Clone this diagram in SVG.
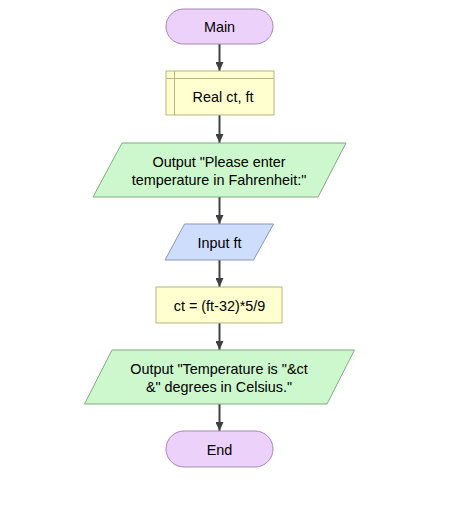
<svg xmlns="http://www.w3.org/2000/svg" width="468" height="520" viewBox="0 0 468 520">
<style>
text{font-family:"Liberation Sans",Arial,sans-serif;font-size:14.4px;fill:#000;text-anchor:middle}
.term{fill:#ecd2fb;stroke:#a686b6;stroke-width:1}
.proc{fill:#ffffd0;stroke:#b6b67e;stroke-width:1}
.out{fill:#cdf7cd;stroke:#7fad7f;stroke-width:1}
.inp{fill:#cfddfd;stroke:#8796bb;stroke-width:1}
.edge{stroke:#404040;stroke-width:2;fill:none;marker-end:url(#ah)}
</style>
<defs>
<marker id="ah" viewBox="0 0 9 8" refX="9" refY="4" markerWidth="9" markerHeight="8" orient="auto" markerUnits="userSpaceOnUse">
<path d="M0,0 L9,4 L0,8 z" fill="#404040"/>
</marker>
</defs>
<rect width="468" height="520" fill="#fff"/>
<g id="connectors">
<line class="edge" x1="219.5" y1="44" x2="219.5" y2="71"/>
<line class="edge" x1="219.5" y1="115" x2="219.5" y2="143"/>
<line class="edge" x1="219.5" y1="197" x2="219.5" y2="224"/>
<line class="edge" x1="219.5" y1="260" x2="219.5" y2="287"/>
<line class="edge" x1="219.5" y1="323" x2="219.5" y2="350"/>
<line class="edge" x1="219.5" y1="404" x2="219.5" y2="431"/>
</g>
<g id="main">
<rect class="term" x="166" y="9" width="107" height="35" rx="17.5"/>
<text x="219.5" y="31.5">Main</text>
</g>
<g id="declare">
<rect class="proc" x="166" y="71" width="108" height="44"/>
<line x1="166" y1="78.5" x2="274" y2="78.5" stroke="#b6b67e"/>
<line x1="174.5" y1="71" x2="174.5" y2="115" stroke="#b6b67e"/>
<text x="223" y="102">Real ct, ft</text>
</g>
<g id="output1">
<polygon class="out" points="122,143 346,143 318,197 93,197"/>
<text x="219" y="167">Output "Please enter</text>
<text x="219" y="185">temperature in Fahrenheit:"</text>
</g>
<g id="input">
<polygon class="inp" points="184.5,224 273.5,224 253.5,260 165,260"/>
<text x="219.5" y="248">Input ft</text>
</g>
<g id="assign">
<rect class="proc" x="156" y="287" width="126" height="36"/>
<text x="219.5" y="310.5">ct = (ft-32)*5/9</text>
</g>
<g id="output2">
<polygon class="out" points="112,350 354.5,350 327,404 84.5,404"/>
<text x="219" y="374">Output "Temperature is "&amp;ct</text>
<text x="219" y="392">&amp;" degrees in Celsius."</text>
</g>
<g id="end">
<rect class="term" x="166" y="431" width="107" height="36" rx="18"/>
<text x="219.5" y="454.5">End</text>
</g>
</svg>
